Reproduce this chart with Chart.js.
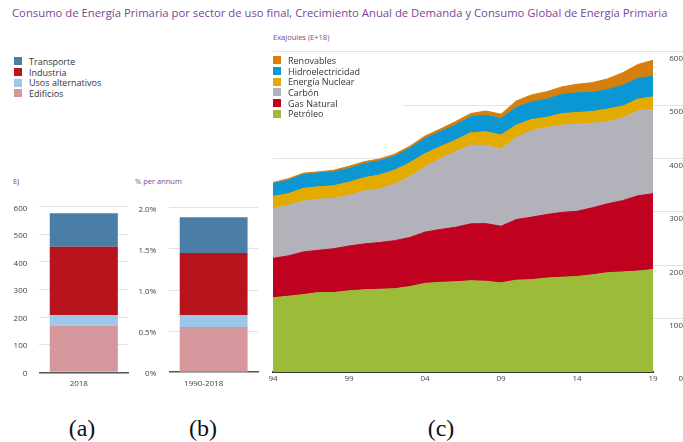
<!DOCTYPE html>
<html>
<head>
<meta charset="utf-8">
<script src="https://cdn.jsdelivr.net/npm/chart.js@4.4.0/dist/chart.umd.min.js"></script>
<style>
body { margin: 0; width: 683px; height: 442px; position: relative; overflow: hidden; background: #fff; font-family: "Open Sans", sans-serif; }
canvas { position: absolute; }
#title { position: absolute; left: 12px; top: 5px; color: #7a4597; font-size: 11px; white-space: nowrap; }
.unit { position: absolute; color: #7a4597; font-size: 7.5px; white-space: nowrap; transform: translateY(-50%); }
.legend { position: absolute; background: #fff; font-size: 9px; color: #333; }
.legend div { display: flex; align-items: center; height: 10.7px; white-space: nowrap; }
.legend span { display: inline-block; width: 8px; height: 8px; margin-right: 7px; }
.cap { position: absolute; font-family: "Liberation Serif", serif; font-size: 24px; color: #111; transform: translate(-50%, -50%); }
</style>
</head>
<body>
<div id="title">Consumo de Energía Primaria por sector de uso final, Crecimiento Anual de Demanda y Consumo Global de Energía Primaria</div>

<div class="legend" id="sectorLegend" style="left:14px; top:56px;"></div>
<div class="unit" style="left:13px; top:181px;">EJ</div>
<div class="unit" style="left:135px; top:181px;">% per annum</div>
<div class="unit" style="left:273px; top:37px;">Exajoules (E+18)</div>

<canvas id="sectorChart" width="135" height="200" style="left:0; top:190px;"></canvas>
<canvas id="growthChart" width="130" height="200" style="left:135px; top:190px;"></canvas>
<canvas id="fuelChart" width="423" height="346" style="left:260px; top:40px;"></canvas>
<div class="legend" id="fuelLegend" style="left:271px; top:55px; width:130px; padding-left:2px;"></div>

<div class="cap" style="left:82px; top:428px;">(a)</div>
<div class="cap" style="left:203px; top:428px;">(b)</div>
<div class="cap" style="left:441px; top:428px;">(c)</div>

<script>
// Sectors, bottom of the stack first
const sectorNames = ['Edificios', 'Usos alternativos', 'Industria', 'Transporte'];
const sectorColors = ['#d6979c', '#9dc7e8', '#b7141e', '#4a7ea6'];
const sectorEJ2018 = [169, 37.5, 249, 121];          // EJ, 2018
const sectorGrowth = [0.55, 0.145, 0.755, 0.435];     // % per annum, 1990-2018

// Global primary energy, bottom of the stack first
const years = [1994, 1995, 1996, 1997, 1998, 1999, 2000, 2001, 2002, 2003, 2004, 2005, 2006,
    2007, 2008, 2009, 2010, 2011, 2012, 2013, 2014, 2015, 2016, 2017, 2018, 2019];
const fuelNames = ['Petróleo', 'Gas Natural', 'Carbón', 'Energía Nuclear', 'Hidroelectricidad', 'Renovables'];
const fuelColors = ['#9cbb38', '#c0011f', '#b3b2ba', '#e3aa00', '#0a97d3', '#d67f0c'];
const petroleo = [139, 142, 145, 149, 149, 152, 154, 155, 156, 160, 166, 168, 169,
    171, 170, 167, 172, 173, 176, 177.5, 179, 182, 186, 187.5, 189, 192];
const gasNatural = [74, 75.5, 80, 79, 82, 84, 86, 87.5, 90, 92, 96, 99, 102,
    106.5, 108, 106, 113.5, 117, 119, 121.5, 122, 125.5, 129, 133.5, 141, 142];
const carbon = [93, 95, 95.5, 96, 94, 95, 99, 100.5, 106, 114, 122, 133, 141.5,
    147.5, 147, 144.5, 153.5, 162, 163, 163.5, 163, 158.5, 154, 155, 159, 158.5];
const nuclear = [23, 21.5, 23.5, 23, 24, 24.5, 25, 26, 26, 26, 25, 22, 21.5,
    23, 25, 26.5, 23.5, 21, 19, 21.5, 22, 22, 23.5, 22, 22, 23];
const hidro = [24, 25, 26, 26, 26, 25.5, 26.5, 26.5, 26, 27, 28.5, 28, 28.5,
    30, 31, 31, 33, 33, 34, 36, 37, 36, 36.5, 39, 39, 38.5];
const renovables = [2, 3, 2.5, 2, 3, 4.5, 3.5, 3.5, 4, 4, 4.5, 5, 6.5,
    6, 8, 8, 12, 13, 14, 14, 16, 18, 20, 23.5, 26, 30];
const fuelSeries = [petroleo, gasNatural, carbon, nuclear, hidro, renovables];

const tickFont = { family: '"Open Sans", sans-serif', size: 8 };
const tickColor = '#444';
const gridColor = ctx => ctx.tick && ctx.tick.value === 0 ? 'rgba(0,0,0,0)' : '#e2e2e2';

// Stretch the title to the width it has in the figure
const title = document.getElementById('title');
title.style.fontSize = (11 * 656 / title.offsetWidth) + 'px';

// HTML legends, top item first
function buildLegend(id, names, cols) {
    const box = document.getElementById(id);
    for (let i = names.length - 1; i >= 0; i--) {
        const row = document.createElement('div');
        row.innerHTML = `<span style="background:${cols[i]}"></span>${names[i]}`;
        box.appendChild(row);
    }
}
buildLegend('sectorLegend', sectorNames, sectorColors);
buildLegend('fuelLegend', fuelNames, fuelColors);

// Small stacked bar, shared by (a) and (b)
function stackedBar(id, label, values, axis) {
    return new Chart(document.getElementById(id), {
        type: 'bar',
        data: {
            labels: [label],
            datasets: sectorNames.map((name, i) => ({
                label: name,
                data: [values[i]],
                backgroundColor: sectorColors[i],
                barPercentage: 0.765,
                categoryPercentage: 1
            }))
        },
        options: {
            responsive: false,
            animation: false,
            layout: { padding: axis.padding },
            plugins: { legend: { display: false }, tooltip: { enabled: false } },
            scales: {
                x: {
                    stacked: true,
                    grid: { display: false, drawTicks: false },
                    border: { color: '#555', width: 1.5 },
                    ticks: { color: tickColor, font: tickFont, padding: 7, labelOffset: axis.labelShift },
                    afterFit: s => { s.height = 17.7; }
                },
                y: {
                    stacked: true,
                    min: 0,
                    max: axis.max,
                    border: { display: false },
                    grid: { color: gridColor, drawTicks: false },
                    ticks: { stepSize: axis.step, padding: axis.gap, labelOffset: 1.5, color: tickColor, font: tickFont, callback: axis.format },
                    afterFit: s => { s.width = axis.width; }
                }
            }
        }
    });
}

stackedBar('sectorChart', '2018', sectorEJ2018, {
    max: 600, step: 100, gap: 12, width: 39.3, labelShift: -5,
    padding: { top: 16.7, right: 6.7, left: 0, bottom: 0 },
    format: v => v
});

stackedBar('growthChart', '1990-2018', sectorGrowth, {
    max: 2, step: 0.5, gap: 13, width: 34.3, labelShift: -10,
    padding: { top: 6.7, right: 7, left: 0, bottom: 0 },
    format: v => v === 0 ? '0%' : v.toFixed(1) + '%'
});

// Stacked area chart (c), value axis on the right
new Chart(document.getElementById('fuelChart'), {
    type: 'line',
    data: {
        labels: years,
        datasets: fuelNames.map((name, i) => ({
            label: name,
            data: fuelSeries[i],
            backgroundColor: fuelColors[i],
            borderColor: fuelColors[i],
            borderWidth: 1,
            fill: i === 0 ? 'origin' : '-1',
            pointRadius: 0,
            tension: 0
        }))
    },
    options: {
        responsive: false,
        animation: false,
        layout: { padding: { left: 13, top: 11.7, right: 0, bottom: 0 } },
        plugins: { legend: { display: false }, tooltip: { enabled: false } },
        scales: {
            x: {
                grid: { display: false, drawTicks: false },
                border: { color: '#3a3a3a', width: 2 },
                ticks: {
                    autoSkip: false,
                    maxRotation: 0,
                    padding: 2,
                    color: tickColor,
                    font: tickFont,
                    callback: (v, i) => (years[i] - years[0]) % 5 === 0 ? String(years[i]).slice(2) : ''
                },
                afterFit: s => { s.height = 14; }
            },
            y: {
                position: 'right',
                stacked: true,
                min: 0,
                max: 600,
                border: { display: false },
                grid: { color: gridColor, tickColor: gridColor, tickLength: 30 },
                ticks: { stepSize: 100, crossAlign: 'far', labelOffset: 7, color: tickColor, font: tickFont },
                afterFit: s => { s.width = 30; }
            }
        }
    }
});
</script>
</body>
</html>
